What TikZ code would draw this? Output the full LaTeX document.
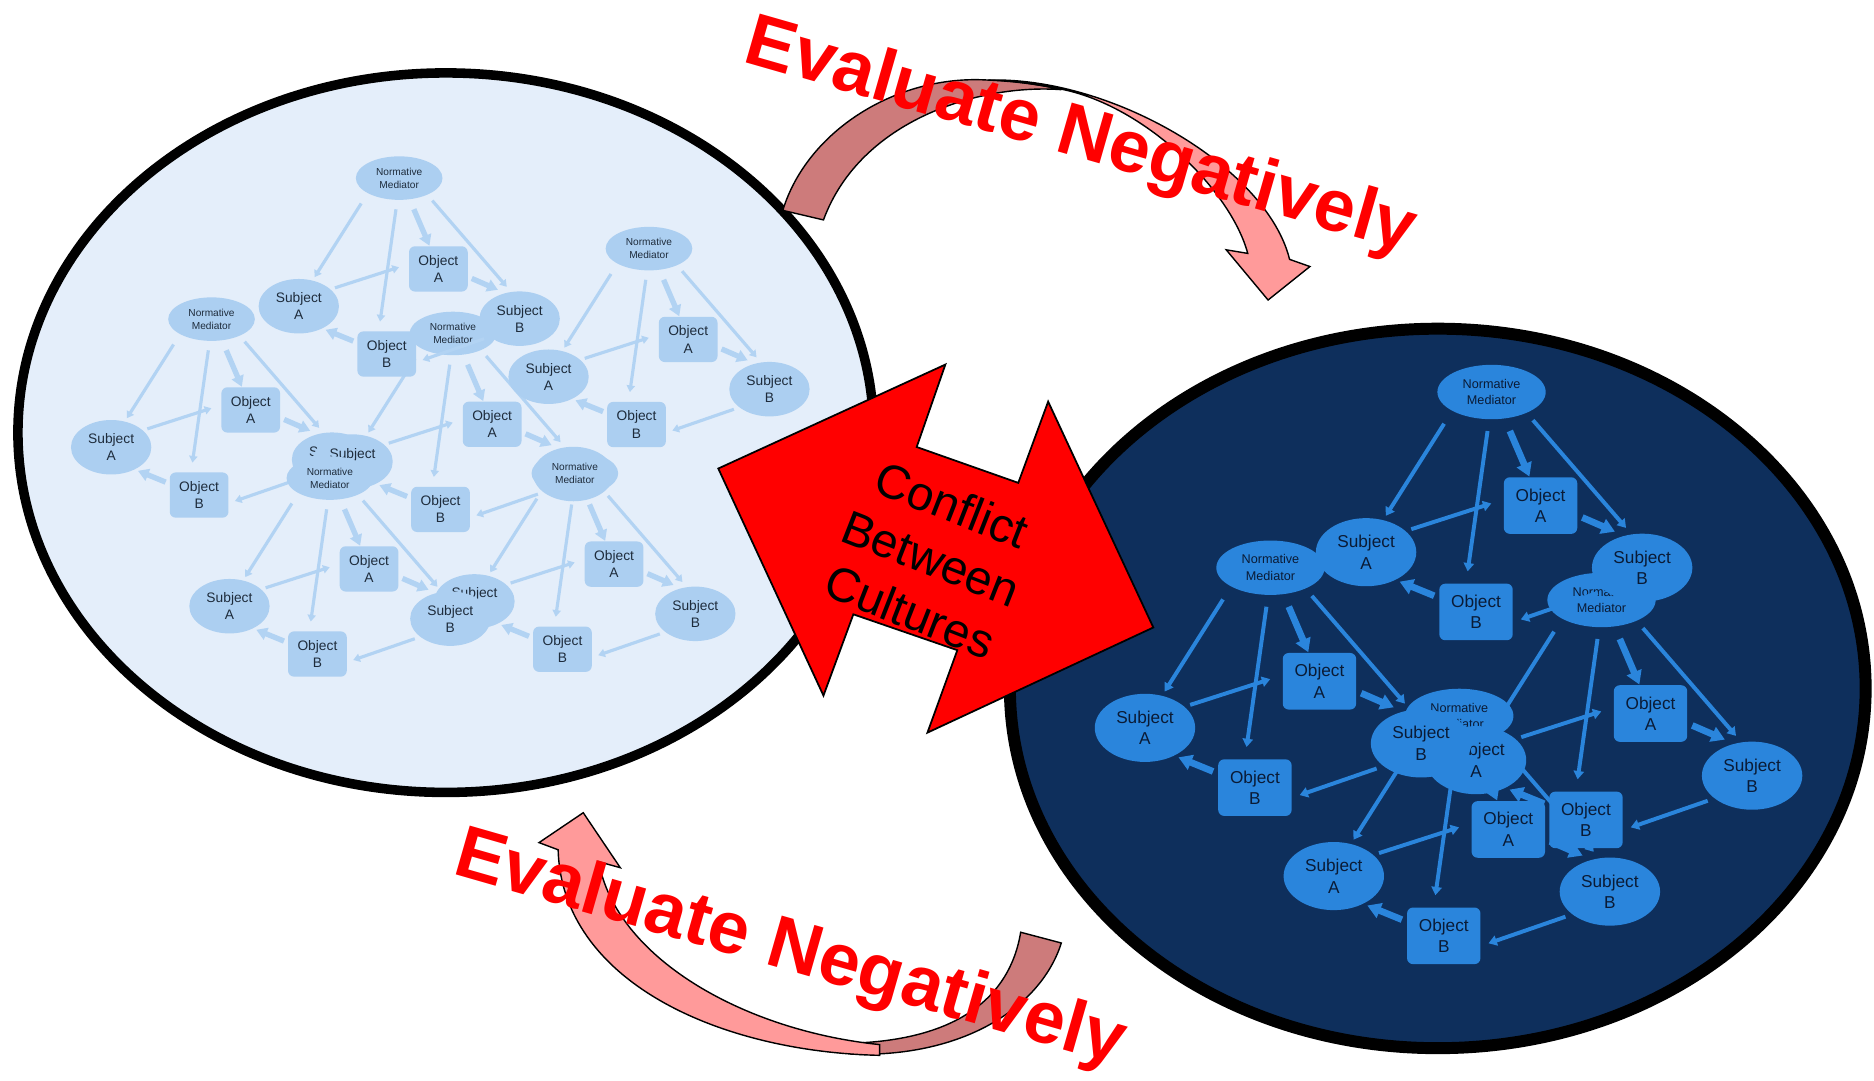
\documentclass[tikz,border=0pt]{standalone}
\usepackage{fontspec}
\setmainfont{Liberation Sans}
\usetikzlibrary{arrows.meta, positioning, shapes.geometric}
\usepackage{xcolor}

\definecolor{nightsea}{HTML}{0E2F5C}
\definecolor{nightunit}{HTML}{2A85DC}
\definecolor{nightink}{HTML}{0A1B36}
\definecolor{dayside}{HTML}{E4EEFA}
\definecolor{dayunit}{HTML}{ACCFF1}
\definecolor{dayline}{HTML}{B2D3F3}
\definecolor{dayink}{HTML}{1E2C3C}
\definecolor{sorrowdark}{HTML}{CD7B7B}
\definecolor{sorrowlight}{HTML}{FF9A9A}

\def\pxlen{0.1195mm}
\colorlet{unitfill}{nightunit}
\colorlet{unitline}{nightunit}
\colorlet{unittext}{nightink}

\tikzset{
    mediator/.style={ellipse, fill=unitfill, text=unittext, inner sep=0pt, align=center,
        minimum width=10.83mm, minimum height=5.44mm, font=\fontsize{3.6}{4.7}\selectfont},
    subject/.style={ellipse, fill=unitfill, text=unittext, inner sep=0pt, align=center,
        minimum width=10.04mm, minimum height=6.81mm, font=\fontsize{4.9}{6.1}\selectfont},
    object/.style={rectangle, rounded corners=0.6mm, fill=unitfill, text=unittext, inner sep=0pt, align=center,
        minimum width=7.34mm, minimum height=5.66mm, font=\fontsize{4.9}{6.1}\selectfont},
    link/.style 2 args={draw=unitline, line width=3.3*\pxlen, shorten <=#1*\pxlen, shorten >=#2*\pxlen,
        -{Triangle[length=0pt 2.1, width=0pt 2.6]}},
    boldlink/.style 2 args={draw=unitline, line width=5.6*\pxlen, shorten <=#1*\pxlen, shorten >=#2*\pxlen,
        -{Triangle[length=0pt 2, width=0pt 2.3]}},
    sorrow/.style={draw=black, line width=0.4pt},
    blame/.style={text=red, rotate=-16, font=\bfseries\fontsize{21}{24}\selectfont},
    pics/culture/.style={code={
        \begin{scope}[scale=#1, transform shape]
            \node[mediator] (nm) at (0,0) {Normative\\Mediator};
            \node[subject] (sa) at (-105,134) {Subject\\A};
            \node[object] (oa) at (41,95) {Object\\A};
            \node[subject] (sb) at (126,147) {Subject\\B};
            \node[object] (ob) at (-13,184) {Object\\B};
            \draw[link={12.3}{3.65}] (nm.206.6) -- (sa.62.2);
            \draw[link={9.4}{9.8}] (nm.265) -- (ob.109.7);
            \draw[boldlink={10.8}{0}] (nm.296.9) -- (oa.111.6);
            \draw[link={7.6}{6.5}] (nm.329.4) -- (sb.108.6);
            \draw[link={4.45}{10.4}] (sa.28.2) -- (oa.171.7);
            \draw[boldlink={3.95}{7.8}] (oa.345.4) -- (sb.120.2);
            \draw[link={5.5}{6.5}] (sb.211.4) -- (ob.345.4);
            \draw[boldlink={4}{3.1}] (ob.159.1) -- (sa.317.6);
        \end{scope}
    }}
}

\begin{document}
\begin{tikzpicture}[x=0.1195mm, y=-0.1195mm]
        \useasboundingbox (0,0) rectangle (1568,904);

        \draw[fill=dayside, line width=8*\pxlen] (373,362) ellipse [x radius=358, y radius=301];
        \begin{scope}
            \def\pxlen{0.0956mm}
            \colorlet{unitfill}{dayunit}
            \colorlet{unitline}{dayline}
            \colorlet{unittext}{dayink}
            \pic (l3) at (177,267) {culture=0.8};
            \pic (l4) at (379,279) {culture=0.8};
            \pic (l5) at (481,396) {culture=0.8};
            \pic (l6) at (276,400) {culture=0.8};
            \pic (l1) at (334,149) {culture=0.8};
            \pic (l2) at (543,208) {culture=0.8};
        \end{scope}

        \draw[fill=nightsea, line width=10*\pxlen] (1203,576) ellipse [x radius=358, y radius=301];
        \pic (r4) at (1221,599) {culture=1};
        \pic (r3) at (1340,502) {culture=1};
        \pic (r1) at (1248,328) {culture=1};
        \pic (r2) at (1063,475) {culture=1};

        \draw[fill=red, line width=0.5pt] (601,392) -- (791,305) -- (767,374) -- (852,404) -- (877,336)
            -- (965,525) -- (776,613) -- (801,544) -- (714,514) -- (689,582) -- cycle;
        \node[rotate=-21.4, align=center, font=\fontsize{13.6}{16.3}\selectfont] (clash) at (779,467)
            {Conflict\\Between\\Cultures};

        \draw[sorrow, fill=sorrowdark] (655,176) .. controls (675,110) and (750,62) .. (827,67)
            .. controls (850,68) and (872,71) .. (888,75) .. controls (820,70) and (720,100) .. (689,184) -- cycle;
        \draw[sorrow, fill=sorrowlight] (827,67) .. controls (930,64) and (1060,140) .. (1079,217)
            -- (1096,223) -- (1061,251) -- (1026,209) -- (1044,212)
            .. controls (1030,160) and (960,90) .. (890,75) .. controls (865,70) and (845,67) .. (827,67) -- cycle;

        \draw[sorrow, fill=sorrowdark] (888,789) .. controls (872,840) and (810,885) .. (712,882)
            -- (705,873) .. controls (800,872) and (845,835) .. (854,780) -- cycle;
        \draw[sorrow, fill=sorrowlight] (501,721) .. controls (515,800) and (620,862) .. (736,874)
            -- (736,883) .. controls (600,880) and (470,820) .. (467,711)
            -- (451,705) -- (488,680) -- (519,726) -- cycle;

        \node[blame] (blametop) at (904,116) {Evaluate Negatively};
        \node[blame] (blamebottom) at (661,796) {Evaluate Negatively};
\end{tikzpicture}
\end{document}
